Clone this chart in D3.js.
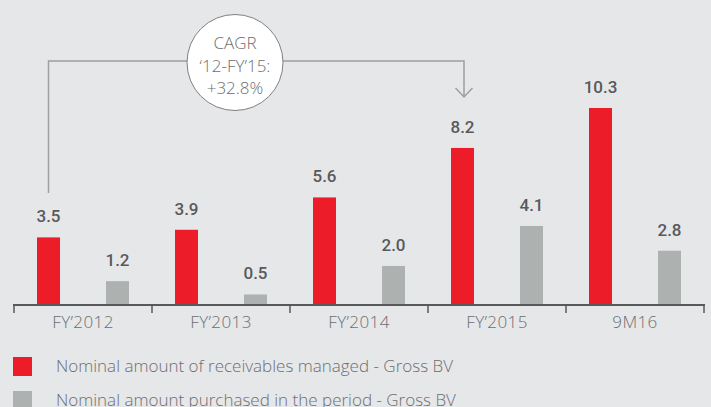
<!DOCTYPE html>
<html>
<meta charset="utf-8">
<style>
body { margin: 0; background: #e6e7e9; }
svg { display: block; }
.tick-label { font-family: "Open Sans", "Liberation Sans", sans-serif; font-weight: 300; fill: #6d6e70; }
.val { font-family: Roboto, "Liberation Sans", sans-serif; font-weight: 500; fill: #58595b; }
</style>
<body>
<svg id="chart" width="711" height="407"></svg>
<script src="https://cdnjs.cloudflare.com/ajax/libs/d3/7.8.5/d3.min.js"></script>
<script>
var periods = ["FY\u20192012", "FY\u20192013", "FY\u20192014", "FY\u20192015", "9M16"];
var managed = [3.5, 3.9, 5.6, 8.2, 10.3];
var purchased = [1.2, 0.5, 2.0, 4.1, 2.8];
var seriesNames = ["Nominal amount of receivables managed - Gross BV",
                   "Nominal amount purchased in the period - Gross BV"];
var seriesColors = ["#ed1c29", "#adb2b1"];
var cagrLines = ["CAGR", "\u201812-FY\u201915:", "+32.8%"];

var svg = d3.select("#chart");

var x = d3.scaleBand().domain(periods).range([14, 704]);
var y = d3.scaleLinear().domain([0, 10.3]).range([304, 108]);
var barW = 23, off = 34.5;

// bars + value labels
var series = [managed, purchased];
series.forEach(function(vals, s) {
  var cx = function(d, i) { return x(periods[i]) + x.bandwidth() / 2 + (s === 0 ? -off : off); };
  svg.append("g").selectAll("rect")
    .data(vals).enter().append("rect")
      .attr("x", function(d, i) { return cx(d, i) - barW / 2; })
      .attr("y", function(d) { return y(d); })
      .attr("width", barW)
      .attr("height", function(d) { return y(0) - y(d); })
      .attr("fill", seriesColors[s]);
  svg.append("g").selectAll("text")
    .data(vals).enter().append("text")
      .attr("class", "val")
      .attr("x", cx)
      .attr("y", function(d) { return y(d) - 15; })
      .attr("text-anchor", "middle")
      .attr("font-size", 17)
      .text(function(d) { return d.toFixed(1); });
});

// axis
var axisG = svg.append("g");
axisG.append("line")
  .attr("x1", 13).attr("x2", 705).attr("y1", 305).attr("y2", 305)
  .attr("stroke", "#58595b").attr("stroke-width", 2);
var edges = periods.map(function(p) { return x(p); }).concat([x.range()[1]]);
axisG.selectAll(".tk").data(edges).enter().append("line")
  .attr("x1", function(d) { return d; }).attr("x2", function(d) { return d; })
  .attr("y1", 305).attr("y2", 313)
  .attr("stroke", "#58595b").attr("stroke-width", 1.5);
axisG.selectAll(".tl").data(periods).enter().append("text")
  .attr("class", "tick-label")
  .attr("x", function(d) { return x(d) + x.bandwidth() / 2; })
  .attr("y", 328)
  .attr("text-anchor", "middle")
  .attr("font-size", 17)
  .attr("letter-spacing", 0.4)
  .text(function(d) { return d; });

// CAGR connector
var x0 = x(periods[0]) + x.bandwidth() / 2 - off;
var x3 = x(periods[3]) + x.bandwidth() / 2 - off + 1.5;
svg.append("path")
  .attr("d", "M" + x0 + ",193 V61 H" + x3 + " V97")
  .attr("fill", "none").attr("stroke", "#9d9fa2").attr("stroke-width", 1.5);
svg.append("path")
  .attr("d", "M" + (x3 - 8.5) + ",88 L" + x3 + ",97 L" + (x3 + 8.5) + ",88")
  .attr("fill", "none").attr("stroke", "#9d9fa2").attr("stroke-width", 1.5);
svg.append("circle")
  .attr("cx", 235).attr("cy", 62.5).attr("r", 48)
  .attr("fill", "#ffffff").attr("stroke", "#7d7f82").attr("stroke-width", 1);
svg.append("g").selectAll("text")
  .data(cagrLines).enter().append("text")
    .attr("class", "tick-label")
    .attr("x", 235)
    .attr("y", function(d, i) { return 49 + i * 22.5; })
    .attr("text-anchor", "middle")
    .attr("font-size", 17)
    .text(function(d) { return d; });

// legend
var leg = svg.append("g").selectAll("g")
  .data(seriesNames).enter().append("g")
    .attr("transform", function(d, i) { return "translate(13," + (357 + i * 34) + ")"; });
leg.append("rect").attr("width", 19).attr("height", 19)
  .attr("fill", function(d, i) { return seriesColors[i]; });
leg.append("text")
  .attr("class", "tick-label")
  .attr("x", 43).attr("y", 15)
  .attr("font-size", 17)
  .text(function(d) { return d; });
</script>
</body>
</html>
